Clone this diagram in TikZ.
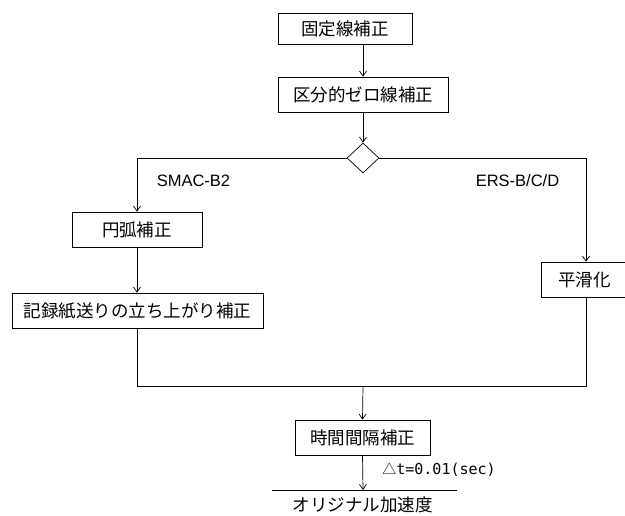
\documentclass[tikz,border=0pt]{standalone}
\usepackage{fontspec}
\setmainfont{Liberation Sans}
\newfontfamily\jp{Noto Sans CJK JP}
\newfontfamily\monof{DejaVu Sans Mono}
\usetikzlibrary{arrows.meta,shapes.geometric}
\begin{document}
\begin{tikzpicture}[x=1pt,y=-1pt,
  line width=0.7pt,
  procbox/.style={draw,rectangle,inner sep=0pt,font=\jp\fontsize{17.5}{17.5}\selectfont},
  arr/.style={-{Straight Barb[length=5pt,width=7pt]}},
  lbl/.style={inner sep=0pt,font=\fontsize{16.5}{17}\selectfont}]
\useasboundingbox (0,0) rectangle (625,516);
\node[procbox,minimum width=134pt,minimum height=31pt] (b1) at (345,28.5) {固定線補正};
\node[procbox,minimum width=170pt,minimum height=35pt] (b2) at (363,94.5) {区分的ゼロ線補正};
\node[draw,diamond,aspect=1.05,inner sep=0pt,minimum width=32pt,minimum height=30pt] (d) at (363,158) {};
\node[procbox,minimum width=130pt,minimum height=35pt] (b3) at (137,229.5) {円弧補正};
\node[procbox,minimum width=251pt,minimum height=35pt] (b4) at (137.5,310.5) {記録紙送りの立ち上がり補正};
\node[procbox,minimum width=90pt,minimum height=35pt,text width=80pt,align=left] (b5) at (586,279.5) {\hspace*{12pt}平滑化};
\node[procbox,minimum width=135pt,minimum height=35pt] (b6) at (362.5,437.5) {時間間隔補正};
\node[lbl] (l1) at (193.5,181) {SMAC-B2};
\node[lbl] (l2) at (517.5,181) {ERS-B/C/D};
\coordinate (m) at (363,386);
\coordinate (ml) at (137,386);
\coordinate (mr) at (586,386);
\coordinate (e) at (363,490);
\coordinate (el) at (272,490);
\coordinate (er) at (457,490);
\node[inner sep=0pt,anchor=west] (dt) at (382,470) {{\jp\fontsize{14}{14}\selectfont △}{\monof\fontsize{15}{15}\selectfont t=0.01(sec)}};
\node[inner sep=0pt,font=\jp\fontsize{17.5}{17.5}\selectfont] (out) at (362.5,505) {オリジナル加速度};
\draw[arr] (b1.south -| b2.north) -- (b2.north);
\draw[arr] (b2.south) -- (d.north);
\draw[arr] (d.west) -| (b3.north);
\draw[arr] (d.east) -| (b5.north);
\draw[arr] (b3.south) -- (b4.north -| b3.south);
\draw (b4.south -| ml) -- (ml) -- (mr) -- (b5.south);
\draw[arr] (m) -- (b6.north);
\draw[arr] (b6.south) -- (e);
\draw (el) -- (er);
\end{tikzpicture}
\end{document}
